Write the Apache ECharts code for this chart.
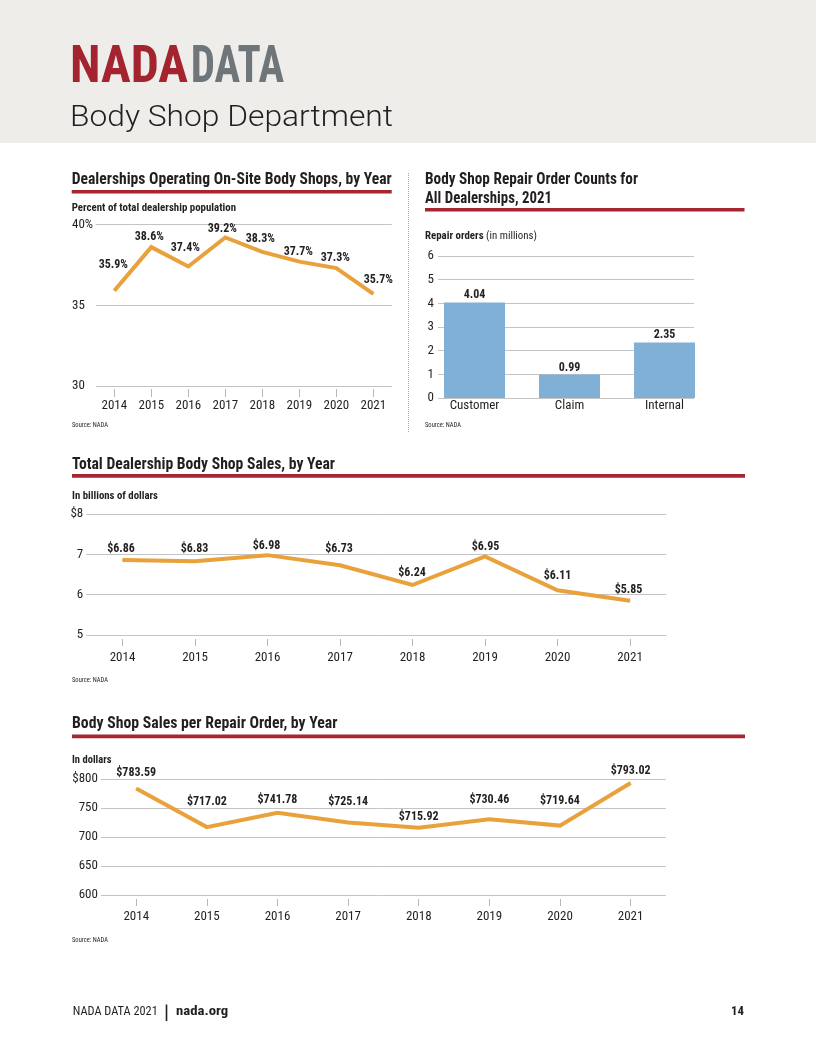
<!DOCTYPE html>
<html><head><meta charset="utf-8">
<script src="https://cdn.jsdelivr.net/npm/echarts@6/dist/echarts.min.js"></script>
<style>html,body{margin:0;padding:0;background:#fff}#c{width:816px;height:1056px}</style>
</head><body><div id="c"></div>
<script>
// ---------- DATA ----------
const years = ['2014','2015','2016','2017','2018','2019','2020','2021'];
const shareValues = [35.9, 38.6, 37.4, 39.2, 38.3, 37.7, 37.3, 35.7];
const shareTicks = ['30', '35', '40%'];
const roCategories = ['Customer', 'Claim', 'Internal'];
const roValues = [4.04, 0.99, 2.35];
const roTicks = ['0','1','2','3','4','5','6'];
const salesValues = [6.86, 6.83, 6.98, 6.73, 6.24, 6.95, 6.11, 5.85];
const salesTicks = ['5', '6', '7', '$8'];
const perRoValues = [783.59, 717.02, 741.78, 725.14, 715.92, 730.46, 719.64, 793.02];
const perRoTicks = ['600', '650', '700', '750', '$800'];

// ---------- STYLE ----------
const NARROW = "'Roboto Condensed','DejaVu Sans Condensed',sans-serif";
const INK = '#231f20';
const RED = '#a6252f';
const ORANGE = '#e9a13b';
const BLUE = '#80b0d6';
const GRIDC = '#c4c4c4';

// label nudges (layout only)
const shareNudge = [[-1,-26],[-2,-10],[-3,-18],[-3,-8],[-2,-13],[-1,-10],[-1,-10],[5,-14]];
const salesNudge = [[-1.5,-11],[-0.5,-12],[-1,-9],[-1,-16],[-0.5,-11.5],[0.5,-9.5],[0,-14],[-1.5,-10.5]];
const perRoNudge = [[0,-16],[0,-25],[0,-12.5],[0,-20],[0,-11],[0,-19],[0,-25],[0,-12]];

const mctx = document.createElement('canvas').getContext('2d');
function measure(text, font) { mctx.font = font; return mctx.measureText(text).width; }
function txt(text, left, cy, size, weight, family, color, k) {
  const font = weight + ' ' + size + 'px ' + family;
  return { type: 'text', x: left, y: cy, scaleX: k, silent: true, z: 10,
    style: { text: text, font: font, fill: color, align: 'left', verticalAlign: 'middle' } };
}
function fitText(text, left, cy, width, size, weight, family, color) {
  const font = weight + ' ' + size + 'px ' + family;
  const k = width / measure(text, font);
  return txt(text, left, cy, size, weight, family, color, k);
}
function rect(x, y, w, h, color) {
  return { type: 'rect', shape: { x: x, y: y, width: w, height: h }, style: { fill: color }, silent: true };
}

const graphics = [];
// header
graphics.push(rect(0, 0, 816, 143, '#eeedea'));
graphics.push(fitText('NADA', 70, 69, 118, 52, 'bold', NARROW, '#a3232e'));
graphics.push(fitText('DATA', 190.7, 69, 93.3, 52, 'bold', NARROW, '#6e767a'));
graphics.push(fitText('Body Shop Department', 70, 118.5, 323, 29, '300', "Roboto,'Liberation Sans',Arial,sans-serif", INK));

// chart titles + rules
graphics.push(fitText('Dealerships Operating On-Site Body Shops, by Year', 71.7, 180, 320, 16, 'bold', NARROW, INK));
graphics.push(rect(71.7, 190, 320, 3.6, RED));
graphics.push(fitText('Percent of total dealership population', 71.7, 208.5, 164.3, 11.5, 'bold', NARROW, INK));

graphics.push(fitText('Body Shop Repair Order Counts for', 425, 179.5, 213, 16, 'bold', NARROW, INK));
graphics.push(fitText('All Dealerships, 2021', 425, 199, 127, 16, 'bold', NARROW, INK));
graphics.push(rect(425, 208, 319.5, 3.6, RED));
(function () {
  const fb = 'bold 11.5px ' + NARROW, fr = 'normal 11.5px ' + NARROW;
  const wb = measure('Repair orders', fb), wr = measure(' (in millions)', fr);
  const k = 112 / (wb + wr);
  graphics.push(txt('Repair orders', 425, 236, 11.5, 'bold', NARROW, INK, k));
  graphics.push(txt(' (in millions)', 425 + wb * k, 236, 11.5, 'normal', NARROW, INK, k));
})();

graphics.push(fitText('Total Dealership Body Shop Sales, by Year', 72, 465, 263, 16, 'bold', NARROW, INK));
graphics.push(rect(72, 474, 673, 3.8, RED));
graphics.push(fitText('In billions of dollars', 72, 496.5, 86, 11.5, 'bold', NARROW, INK));

graphics.push(fitText('Body Shop Sales per Repair Order, by Year', 72, 724, 265.5, 16, 'bold', NARROW, INK));
graphics.push(rect(72, 734.5, 673, 3.8, RED));
graphics.push(fitText('In dollars', 72, 760.5, 39.5, 11.5, 'bold', NARROW, INK));

// sources
[[72, 425.5], [425, 425.5], [72, 680], [72, 940]].forEach(function (p) {
  graphics.push(fitText('Source: NADA', p[0], p[1], 36, 7, 'normal', NARROW, INK));
});

// vertical dotted separator
graphics.push({ type: 'line', silent: true, shape: { x1: 408.5, y1: 173, x2: 408.5, y2: 433 },
  style: { stroke: '#a8a8a8', lineWidth: 1, lineDash: [1, 1] } });

// footer
graphics.push(fitText('NADA DATA 2021', 72.7, 1012, 85, 12.5, 'normal', NARROW, INK));
graphics.push({ type: 'line', silent: true, shape: { x1: 166.5, y1: 1004.5, x2: 166.5, y2: 1021 },
  style: { stroke: INK, lineWidth: 1.6 } });
graphics.push(fitText('nada.org', 176, 1012, 52.3, 12.5, 'bold', NARROW, INK));
graphics.push(fitText('14', 731, 1012, 13, 12.5, 'bold', NARROW, INK));

// ---------- AXES ----------
function yAx(gi, min, max, interval, ticks, margin, align, showSplit, showLabel) {
  return { type: 'value', gridIndex: gi, min: min, max: max, interval: interval,
    axisLine: { show: false }, axisTick: { show: false },
    splitLine: { show: showSplit, lineStyle: { color: GRIDC, width: 1 } },
    axisLabel: { show: showLabel, margin: margin, align: align, color: INK, fontFamily: NARROW, fontSize: 13,
      formatter: function (v, i) { return ticks[i]; } } };
}
function xCat(gi, data, margin, offset, tickLen, showTick) {
  return { type: 'category', gridIndex: gi, data: data, boundaryGap: true, offset: offset,
    axisLine: { show: false },
    axisTick: { show: showTick, alignWithLabel: true, length: tickLen, lineStyle: { color: '#b8b8b8' } },
    axisLabel: { margin: margin, color: INK, fontFamily: NARROW, fontSize: 13, interval: 0 } };
}
function lineSeries(ai, values, fmt, nudge) {
  return { type: 'line', xAxisIndex: ai, yAxisIndex: ai, z: 3,
    data: values.map(function (v, i) { return { value: v, label: { offset: nudge[i] } }; }),
    symbol: 'circle', symbolSize: 1, showSymbol: true,
    itemStyle: { color: ORANGE },
    lineStyle: { color: ORANGE, width: 4, join: 'miter', cap: 'butt' },
    label: { show: true, position: 'inside', color: INK, fontFamily: NARROW, fontWeight: 'bold', fontSize: 12,
      textBorderWidth: 0, formatter: function (p) { return fmt(p.value); } } };
}

const option = {
  animation: false,
  backgroundColor: '#ffffff',
  grid: [
    { left: 95.8, top: 224.5, width: 296, height: 161.5, outerBoundsMode: 'none' },
    { left: 427, top: 256, width: 285, height: 142, outerBoundsMode: 'none' },
    { left: 438, top: 256, width: 256, height: 142, outerBoundsMode: 'none' },
    { left: 86.25, top: 514, width: 580, height: 121, outerBoundsMode: 'none' },
    { left: 100.9, top: 779, width: 565, height: 116, outerBoundsMode: 'none' }
  ],
  xAxis: [
    xCat(0, years, 10, 3, 8, true),
    xCat(1, roCategories, 1, 0, 0, false),
    { type: 'value', gridIndex: 2, min: 0, max: 1, show: false },
    xCat(3, years, 12.5, 4, 7, true),
    xCat(4, years, 11, 4, 7, true)
  ],
  yAxis: [
    yAx(0, 30, 40, 5, shareTicks, 23.8, 'left', true, true),
    yAx(1, 0, 6, 1, roTicks, 8, 'right', false, false),
    yAx(2, 0, 6, 1, roTicks, 10.5, 'left', true, true),
    yAx(3, 5, 8, 1, salesTicks, 3, 'right', true, true),
    yAx(4, 600, 800, 50, perRoTicks, 3, 'right', true, true)
  ],
  series: [
    lineSeries(0, shareValues, function (v) { return v.toFixed(1) + '%'; }, shareNudge),
    { type: 'bar', xAxisIndex: 1, yAxisIndex: 1, data: roValues, barWidth: 61, z: 3,
      itemStyle: { color: BLUE },
      label: { show: true, position: 'top', distance: 1, color: INK, fontFamily: NARROW, fontWeight: 'bold', fontSize: 12,
        formatter: function (p) { return p.value.toFixed(2); } } },
    lineSeries(3, salesValues, function (v) { return '$' + v.toFixed(2); }, salesNudge),
    lineSeries(4, perRoValues, function (v) { return '$' + v.toFixed(2); }, perRoNudge)
  ],
  graphic: { elements: graphics }
};

const chart = echarts.init(document.getElementById('c'), null, { renderer: 'canvas', width: 816, height: 1056 });
chart.setOption(option);
</script>
</body></html>
